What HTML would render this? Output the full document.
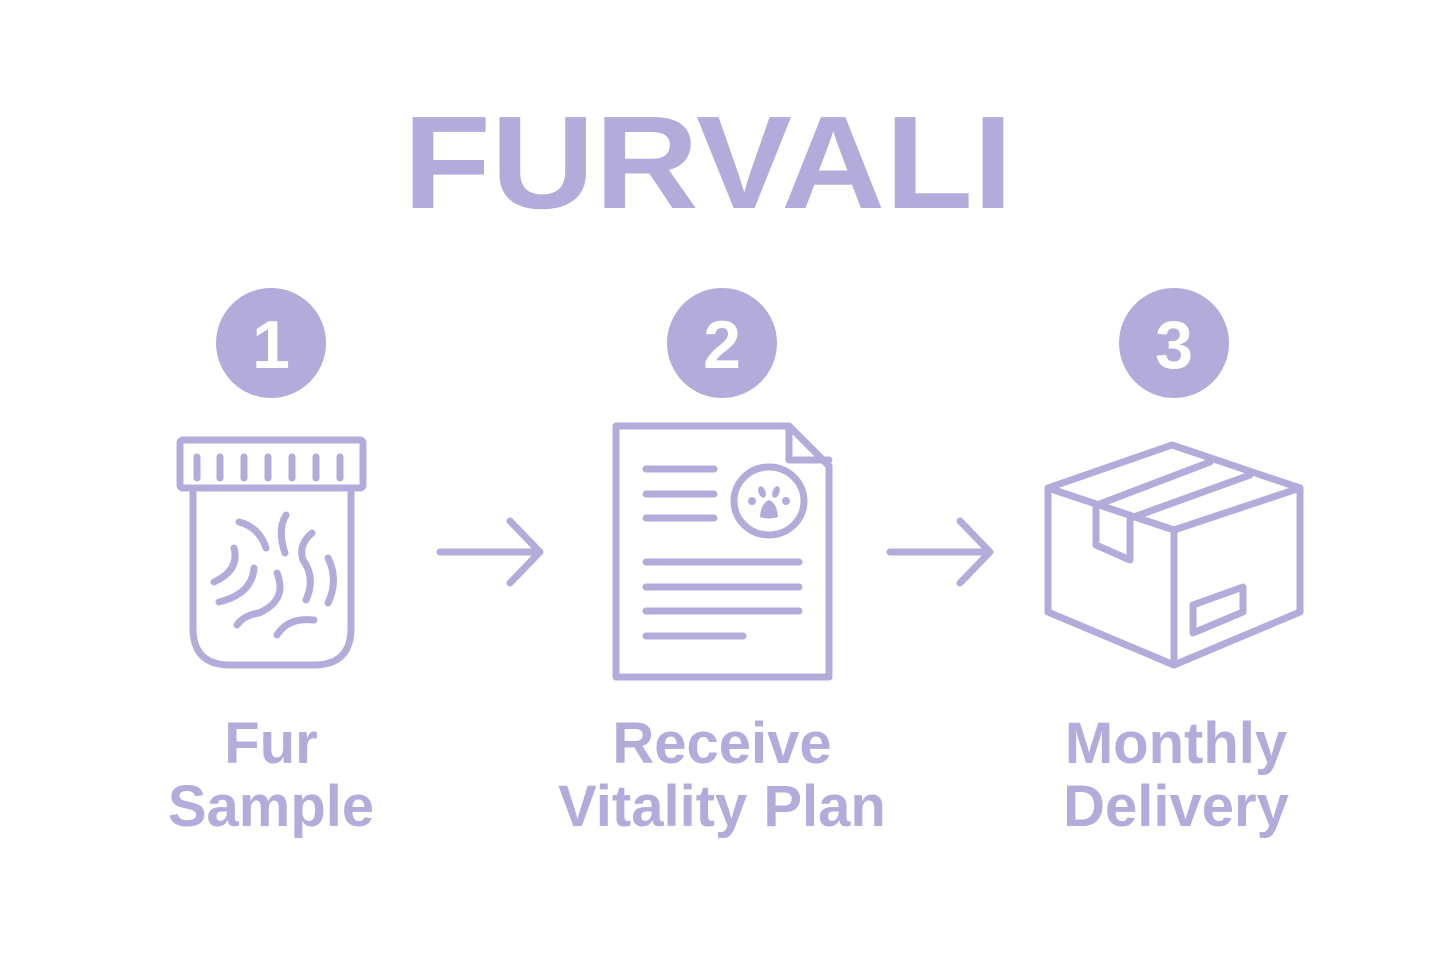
<!DOCTYPE html>
<html><head><meta charset="utf-8"><style>
html,body{margin:0;padding:0;background:#fff;}
svg{display:block;}
text{font-family:"Liberation Sans",sans-serif;font-weight:bold;fill:#b3abd9;}
</style></head><body>
<svg width="1445" height="963" viewBox="0 0 1445 963" xmlns="http://www.w3.org/2000/svg">
<text x="708" y="208" font-size="132" text-anchor="middle" textLength="610" lengthAdjust="spacingAndGlyphs">FURVALI</text>
<g fill="#b3abd9">
<circle cx="271" cy="343" r="55"/><circle cx="722" cy="343" r="55"/><circle cx="1174" cy="343" r="55"/>
</g>
<g font-size="68" text-anchor="middle">
<text x="271" y="368" style="fill:#fff">1</text><text x="722" y="368" style="fill:#fff">2</text><text x="1174" y="368" style="fill:#fff">3</text>
</g>
<g fill="none" stroke="#b3abd9" stroke-width="7" stroke-linecap="round" stroke-linejoin="round">
<!-- jar -->
<rect x="180" y="440" width="183" height="48" rx="3"/>
<path d="M197 457v21M220 457v21M244 457v21M268 457v21M292 457v21M316 457v21M340 457v21"/>
<path d="M193 488v140q0 37 37 37h84q37 0 37-37v-140"/>
<path d="M239 522Q259 527 266 548M286 515Q277 530 285 553M312 533Q298 545 303 560Q316 578 306 600M328 558Q339 580 328 603M234 548Q240 570 214 582M254 568Q252 594 219 602M277 573Q288 600 259 613Q244 615 237 625M314 620Q288 617 277 635"/>
<!-- arrows -->
<path d="M440 552h100M510 521l30 31l-30 31"/>
<path d="M890 552h100M960 521l30 31l-30 31"/>
<!-- document -->
<path d="M616 426h173l40 40v211h-213z"/>
<path d="M789 426v34h40"/>
<path d="M646 469h68M646 494h68M646 518h68M646 562h153M646 587h153M646 611h153M646 636h97"/>
<ellipse cx="769" cy="501" rx="35" ry="34"/>
<!-- box -->
<path d="M1048 488L1172 445L1300 488V612L1174 665L1048 612Z"/>
<path d="M1048 488L1174 530L1300 488M1174 530V665"/>
<path d="M1097 505L1210 462M1131 518L1250 475"/>
<path d="M1096 506V545L1130 560V520"/>
<path d="M1193 605V633L1243 612V587Z"/>
</g>
<g fill="#b3abd9">
<path d="M760 517 Q761 503 769 500 Q777 503 778 517 Q769 520 760 517Z"/>
<ellipse cx="762" cy="492" rx="3.5" ry="6" transform="rotate(-20 762 492)"/>
<ellipse cx="776" cy="492" rx="3.5" ry="6" transform="rotate(20 776 492)"/>
<circle cx="752" cy="501" r="4"/>
<circle cx="786" cy="501" r="4"/>
</g>
<g font-size="58" text-anchor="middle">
<text x="271" y="763">Fur</text>
<text x="271" y="826">Sample</text>
<text x="722" y="763">Receive</text>
<text x="722" y="826">Vitality Plan</text>
<text x="1176" y="763">Monthly</text>
<text x="1176" y="826">Delivery</text>
</g>
</svg>
</body></html>
